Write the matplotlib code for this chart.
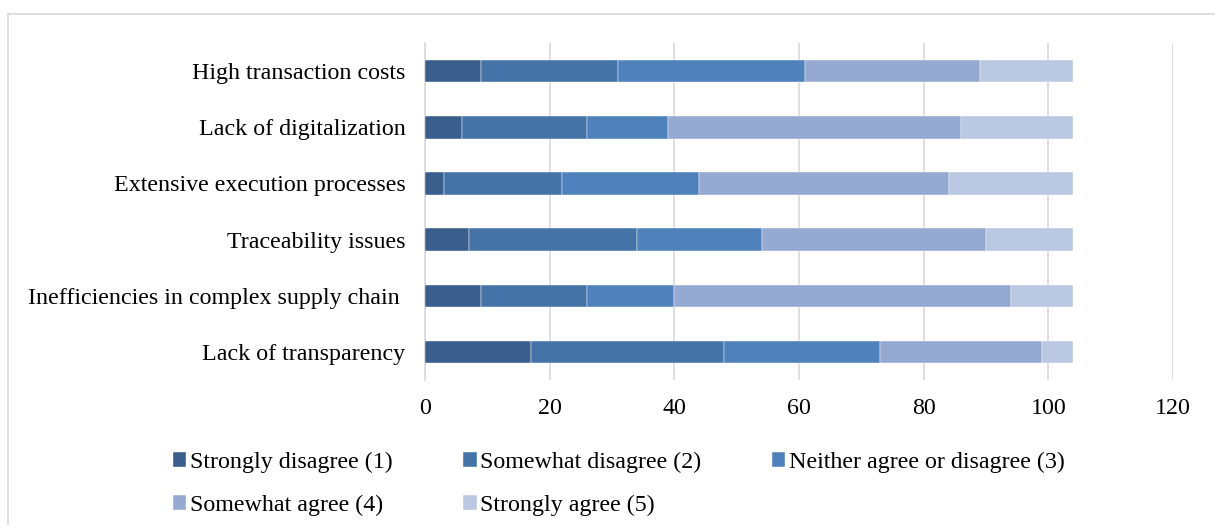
import matplotlib.pyplot as plt
from matplotlib.patches import Rectangle
import numpy as np

plt.rcParams['font.family'] = ['Liberation Serif', 'DejaVu Serif']

# categories listed bottom to top
categories = ["Lack of transparency", "Inefficiencies in complex supply chain ",
              "Traceability issues", "Extensive execution processes",
              "Lack of digitalization", "High transaction costs"]
series_names = ["Strongly disagree (1)", "Somewhat disagree (2)",
                "Neither agree or disagree (3)", "Somewhat agree (4)",
                "Strongly agree (5)"]
strongly_disagree = [17, 9, 7, 3, 6, 9]
somewhat_disagree = [31, 17, 27, 19, 20, 22]
neither = [25, 14, 20, 22, 13, 30]
somewhat_agree = [26, 54, 36, 40, 47, 28]
strongly_agree = [5, 10, 14, 20, 18, 15]
colors = ["#3B5F8D", "#4573A7", "#4F81BD", "#95A9D1", "#BBC8E1"]

fig = plt.figure(figsize=(12.15, 5.25), dpi=100)
ax = fig.add_axes([0.3498, 0.276, 0.6156, 0.642])

# light chart border
fig.patches.append(Rectangle((8 / 1215, -0.1), 1.2, 1.1 - 14 / 525,
                             transform=fig.transFigure, fill=False,
                             edgecolor="#D9D9D9", linewidth=1.2))

y = np.arange(len(categories))
left = np.zeros(len(categories))
handles = []
for name, vals, c in zip(series_names,
                         [strongly_disagree, somewhat_disagree, neither,
                          somewhat_agree, strongly_agree], colors):
    b = ax.barh(y, vals, left=left, height=0.4, color=c, label=name,
                edgecolor="white", linewidth=0.3, zorder=3)
    handles.append(b)
    left += np.array(vals)

ax.set_xlim(0, 120)
ax.set_ylim(-0.5, len(categories) - 0.5)
ax.set_xticks(range(0, 121, 20))
ax.set_yticks(y)
ax.set_yticklabels(categories)
ax.tick_params(axis="both", length=0, labelsize=17.3)
ax.tick_params(axis="x", pad=13)
ax.tick_params(axis="y", pad=14)
ax.grid(axis="x", color="#D9D9D9", linewidth=1.2, zorder=0)
for s in ["top", "right", "bottom"]:
    ax.spines[s].set_visible(False)
ax.spines["left"].set_color("#D9D9D9")
ax.spines["left"].set_linewidth(1.2)

# row-major order for a 3-column legend
order = [0, 3, 1, 4, 2]
fig.legend([handles[i] for i in order], [series_names[i] for i in order],
           ncol=3, loc="upper left", bbox_to_anchor=(0.1424, 0.139),
           frameon=False, fontsize=17.3, handlelength=0.55, handleheight=0.55,
           handletextpad=0.15, columnspacing=2.95, labelspacing=0.9,
           borderaxespad=0, borderpad=0)

fig.savefig("out.png", dpi=100)
